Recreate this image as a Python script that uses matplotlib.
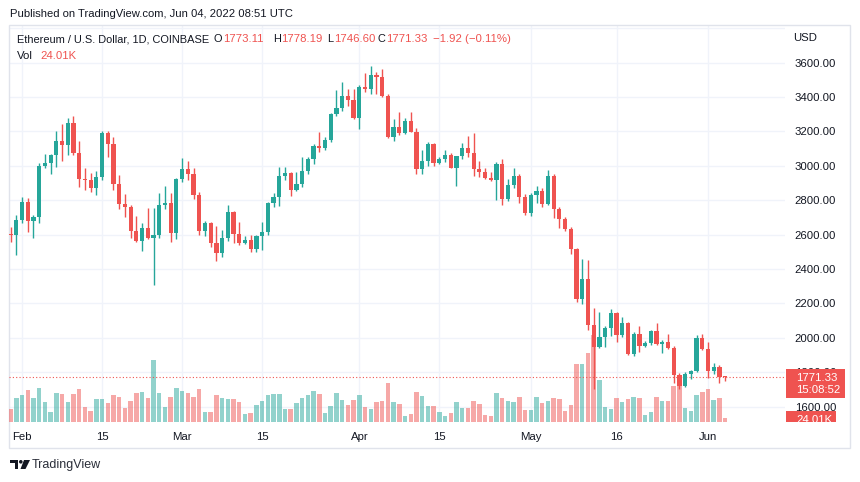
import numpy as np
import pandas as pd
import matplotlib
matplotlib.use("Agg")
import matplotlib.pyplot as plt
import matplotlib.dates as mdates
from matplotlib.patches import Rectangle, Circle, Polygon

plt.rcParams['font.family'] = ['Liberation Sans', 'DejaVu Sans']

# ETH/USD daily, Coinbase, 30 Jan - 4 Jun 2022
dates = pd.date_range("2022-01-30", "2022-06-04", freq="D")

opens = [2606, 2600,
         2688, 2790, 2680, 2703, 2999, 3019, 3063, 3145, 3120, 3251,
         3077, 2926, 2920, 2870, 2934, 3189, 3126, 2893, 2777, 2763,
         2622, 2565, 2641, 2579, 2598, 2773, 2784, 2612,
         2924, 2980, 2951, 2831, 2621, 2670, 2550, 2492, 2579, 2730,
         2606, 2554, 2569, 2515, 2592, 2617, 2782, 2821, 2941, 2957,
         2860, 2895, 2972, 3040, 3116, 3102, 3151, 3300, 3338, 3406, 3383,
         3277, 3460, 3445, 3528, 3519, 3406, 3170, 3224, 3190, 3261,
         3199, 2980, 3030, 3126, 3019, 3040, 3062, 2986, 3058, 3106,
         3077, 2980, 2963, 2931, 2918, 3011, 2808, 2889, 2941, 2817,
         2724, 2831, 2856, 2777, 2941, 2749, 2690, 2635, 2517, 2224,
         2342, 2075, 1949, 2003, 2056, 2143, 2017, 2085, 1906, 2023,
         1955, 1972, 2042, 1964, 1978, 1940, 1784, 1722, 1788, 1809, 1998,
         1936, 1809, 1833, 1773.11]

highs = [2645, 2713,
         2820, 2815, 2715, 3015, 3069, 3070, 3203, 3243, 3278, 3290,
         3145, 2988, 2959, 2970, 3203, 3200, 3168, 2947, 2836, 2775,
         2709, 2668, 2757, 2755, 2842, 2883, 2841, 2930,
         3044, 3030, 2990, 2850, 2680, 2675, 2650, 2627, 2773, 2740,
         2676, 2590, 2600, 2600, 2676, 2790, 2840, 2994, 2994, 2965,
         2966, 3053, 3050, 3130, 3197, 3165, 3305, 3441, 3488, 3445, 3445,
         3470, 3540, 3583, 3545, 3563, 3420, 3273, 3315, 3277, 3311,
         3220, 3092, 3140, 3135, 3050, 3092, 3075, 3060, 3135, 3174,
         3191, 3030, 2990, 2966, 3020, 3040, 2924, 2986, 2950, 2835,
         2845, 2883, 2870, 2976, 2955, 2760, 2700, 2645, 2525, 2459,
         2453, 2175, 2150, 2069, 2168, 2150, 2123, 2090, 2035, 2069,
         1980, 2048, 2085, 1990, 2023, 1955, 1795, 1800, 1813, 2017, 2021,
         1974, 1856, 1843, 1778.19]

lows = [2560, 2482,
        2670, 2617, 2580, 2665, 2990, 2953, 2995, 3030, 3063, 3063,
        2879, 2860, 2847, 2831, 2918, 3052, 2860, 2750, 2703, 2580,
        2560, 2505, 2575, 2308, 2580, 2750, 2559, 2573,
        2905, 2915, 2810, 2600, 2595, 2530, 2449, 2470, 2565, 2550,
        2540, 2545, 2500, 2500, 2511, 2600, 2760, 2765, 2920, 2827,
        2855, 2880, 2950, 3010, 3080, 3095, 3140, 3290, 3320, 3350, 3270,
        3215, 3430, 3420, 3420, 3400, 3160, 3147, 3180, 3185, 3195,
        2951, 2953, 3000, 3000, 3010, 3025, 2985, 2883, 3040, 3050,
        2943, 2934, 2925, 2910, 2800, 2773, 2795, 2870, 2783, 2715,
        2710, 2783, 2760, 2770, 2695, 2641, 2620, 2486, 2210, 2197,
        2045, 1703, 1940, 1947, 2010, 1978, 2005, 1900, 1897, 1920,
        1945, 1960, 1960, 1911, 1935, 1735, 1705, 1715, 1760, 1800, 1930,
        1765, 1790, 1740, 1746.60]

closes = [2600, 2688,
          2790, 2680, 2703, 2999, 3019, 3063, 3145, 3120, 3251, 3077,
          2926, 2920, 2870, 2934, 3189, 3126, 2893, 2777, 2763, 2622,
          2565, 2641, 2579, 2598, 2773, 2784, 2612, 2924,
          2980, 2951, 2831, 2621, 2670, 2550, 2492, 2579, 2730, 2606,
          2554, 2569, 2515, 2592, 2617, 2782, 2821, 2941, 2957, 2860,
          2895, 2972, 3040, 3116, 3102, 3151, 3300, 3338, 3406, 3383, 3277,
          3460, 3445, 3528, 3519, 3406, 3170, 3224, 3190, 3261, 3199,
          2980, 3030, 3126, 3019, 3040, 3062, 2986, 3058, 3106, 3077,
          2980, 2963, 2931, 2918, 3011, 2808, 2889, 2941, 2817, 2724,
          2831, 2856, 2777, 2941, 2749, 2690, 2635, 2517, 2224, 2342,
          2075, 1949, 2003, 2056, 2143, 2017, 2085, 1906, 2023, 1955,
          1972, 2042, 1964, 1978, 1940, 1784, 1722, 1788, 1809, 1998, 1936,
          1809, 1833, 1773.25, 1771.33]

# volume in thousands of ETH
volumes = [80, 146,
           160, 194, 146, 204, 118, 62, 176, 166, 118, 166,
           198, 90, 68, 136, 136, 114, 160, 148, 86, 124,
           176, 182, 142, 370, 176, 90, 148, 204,
           188, 176, 148, 198, 62, 62, 160, 146, 136, 136,
           118, 46, 56, 102, 124, 160, 170, 170, 78, 78,
           114, 146, 160, 188, 166, 56, 96, 176, 130, 102, 130,
           160, 90, 78, 118, 124, 232, 118, 108, 38, 50,
           182, 154, 98, 96, 60, 34, 54, 120, 86, 86,
           126, 110, 42, 34, 172, 144, 126, 122, 148, 74,
           74, 148, 114, 126, 142, 141, 64, 100, 348, 348,
           416, 522, 250, 90, 78, 142, 118, 136, 152, 146,
           44, 60, 152, 124, 124, 216, 270, 86, 68, 164, 182,
           198, 130, 142, 24.01]

tick_dates = pd.to_datetime(["2022-02-01", "2022-02-15", "2022-03-01", "2022-03-15",
                             "2022-04-01", "2022-04-15", "2022-05-01", "2022-05-16",
                             "2022-06-01"])
tick_labels = ["Feb", "15", "Mar", "15", "Apr", "15", "May", "16", "Jun"]
price_ticks = [1600, 1800, 2000, 2200, 2400, 2600, 2800, 3000, 3200, 3400, 3600]
grid_prices = price_ticks + [3800]

UP = '#26a69a'
DOWN = '#ef5350'
TXT = '#131722'
GRID = '#f0f3fa'

W, H = 860, 482


def box(x0, y0, x1, y1):
    # pixel box (from top-left) -> figure fraction rect
    return [x0 / W, 1 - y1 / H, (x1 - x0) / W, (y1 - y0) / H]


o = np.array(opens, dtype=float)
h = np.array(highs, dtype=float)
l = np.array(lows, dtype=float)
c = np.array(closes, dtype=float)
v = np.array(volumes, dtype=float)
x = mdates.date2num(dates)
up = c >= o

x0 = mdates.date2num(pd.Timestamp("2022-02-01"))
xlim = (x0 - 2.28, x0 + 133.47)
ylim = (1511, 3819)
vlim = (0, 2382)

fig = plt.figure(figsize=(8.6, 4.82), dpi=100, facecolor='white')
pane = box(9, 25, 785, 422)

ax_bg = fig.add_axes(pane, zorder=0)
ax_vol = fig.add_axes(pane, zorder=1)
ax = fig.add_axes(pane, zorder=2)
for a in (ax_bg, ax_vol, ax):
    a.set_xlim(*xlim)
    for s in a.spines.values():
        s.set_visible(False)
ax_vol.patch.set_visible(False)
ax.patch.set_visible(False)
ax_bg.set_ylim(*ylim)
ax.set_ylim(*ylim)
ax_vol.set_ylim(*vlim)
ax_bg.set_xticks([])
ax_bg.set_yticks([])
ax_vol.set_xticks([])
ax_vol.set_yticks([])

# grid
for p in grid_prices:
    ax_bg.axhline(p, color=GRID, lw=1)
for t in mdates.date2num(tick_dates):
    ax_bg.axvline(t, color=GRID, lw=1)

# volume
vol_colors = [(0.149, 0.651, 0.604, 0.5) if u else (0.937, 0.325, 0.314, 0.5) for u in up]
ax_vol.bar(x, v, width=0.78, color=vol_colors, linewidth=0)

# last price line
ax.axhline(c[-1], color=DOWN, lw=0.8, ls=(0, (1, 2)), zorder=1)

# candles
colors = np.where(up, UP, DOWN)
px_per_price = (pane[3] * H) / (ylim[1] - ylim[0])
min_body = 1.0 / px_per_price
body_low = np.minimum(o, c)
body_h = np.maximum(np.abs(c - o), min_body)
ax.vlines(x, l, h, colors=colors, lw=1, zorder=2)
ax.bar(x, body_h, bottom=body_low, width=0.74, color=colors, linewidth=0, zorder=3)

# axes labels
ax.yaxis.tick_right()
ax.set_yticks(price_ticks, labels=[f"{p:.2f}" for p in price_ticks])
ax.set_xticks(mdates.date2num(tick_dates), labels=tick_labels)
ax.tick_params(axis='y', length=0, pad=7, labelsize=8.2, labelcolor=TXT)
ax.tick_params(axis='x', length=0, pad=7, labelsize=8.2, labelcolor=TXT)

# price tags on the right scale
ax_tag = fig.add_axes(box(785, 25, 850, 422), zorder=5)
ax_tag.set_xlim(0, 65)
ax_tag.set_ylim(*ylim)
ax_tag.axis('off')
k = 1.0 / px_per_price
ax_tag.add_patch(Rectangle((1, c[-1] - 20.8 * k), 59, 29 * k, color=DOWN, lw=0))
ax_tag.text(11, c[-1] - 0.5 * k, f"{c[-1]:.2f}", color='white', fontsize=8.2,
            va='center', ha='left')
ax_tag.text(11, c[-1] - 13 * k, "15:08:52", color='white', fontsize=8.2,
            va='center', ha='left')

ax_vtag = fig.add_axes(box(785, 25, 850, 422), zorder=6)
ax_vtag.set_xlim(0, 65)
ax_vtag.set_ylim(*vlim)
ax_vtag.axis('off')
kv = (vlim[1] - vlim[0]) / (pane[3] * H)
ax_vtag.add_patch(Rectangle((1, v[-1] - 7 * kv), 50, 14 * kv, color=DOWN, lw=0))
ax_vtag.text(11, v[-1] - 2 * kv, f"{v[-1]:.2f}K", color='white', fontsize=8.2,
             va='center', ha='left', clip_on=True)

# frame
fig.add_artist(Rectangle((9 / W, 1 - 448 / H), 841 / W, 423 / H, fill=False,
                         edgecolor='#e0e3eb', lw=1, transform=fig.transFigure))


# header texts
def ftext(px, py, s, color=TXT, size=8.2, ha='left'):
    fig.text(px / W, 1 - py / H, s, color=color, fontsize=size, va='center', ha=ha)


ftext(10, 14, "Published on TradingView.com, Jun 04, 2022 08:51 UTC", size=8.1)
ftext(17, 39.5, "Ethereum / U.S. Dollar, 1D, COINBASE", size=7.9)
chg = c[-1] - c[-2]
pct = chg / c[-2] * 100
for lab, val, vx in [("O", o[-1], 223), ("H", h[-1], 281),
                     ("L", l[-1], 334), ("C", c[-1], 386)]:
    ftext(vx - 0.5, 39.5, lab, size=7.9, ha='right')
    ftext(vx, 39.5, f"{val:.2f}", color=DOWN)
ftext(433, 39.5, f"\u2212{abs(chg):.2f} (\u2212{abs(pct):.2f}%)", color=DOWN)
ftext(17, 56, "Vol")
ftext(40, 56, f"{v[-1]:.2f}K", color=DOWN)
ftext(793, 38.3, "USD")

# TradingView logo + name
ax_logo = fig.add_axes(box(10, 460, 30, 469))
ax_logo.set_xlim(0, 20)
ax_logo.set_ylim(9, 0)
ax_logo.axis('off')
ax_logo.add_patch(Polygon([(0, 0), (8, 0), (8, 9), (4.5, 9), (4.5, 3.4), (0, 3.4)],
                          color=TXT, lw=0))
ax_logo.add_patch(Circle((10.8, 1.8), 1.8, color=TXT, lw=0))
ax_logo.add_patch(Polygon([(14, 0), (20, 0), (15.5, 9), (10.5, 9)], color=TXT, lw=0))
ftext(32, 465, "TradingView", size=9.0, color='#2a2e39')

fig.savefig("out.png", dpi=100, facecolor='white')
